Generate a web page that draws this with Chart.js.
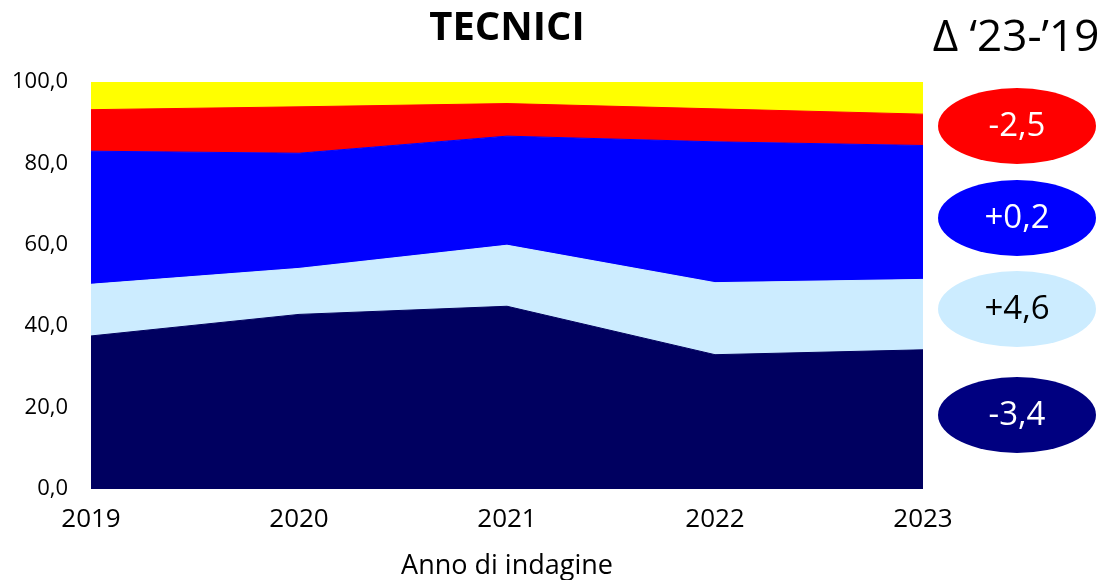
<!DOCTYPE html>
<html lang="it">
<head>
  <meta charset="UTF-8" />
  <title>Tecnici</title>
  <script src="https://cdn.jsdelivr.net/npm/chart.js"></script>
  <style>
    body { margin:0; background:#fff; }
    #wrap { width:1109px; height:580px; position:relative; }
  </style>
</head>
<body>
  <div id="wrap"><canvas id="chart" width="1109" height="580"></canvas></div>
  <script>
    // anni di indagine
    const years = ['2019', '2020', '2021', '2022', '2023'];
    // quote (%) per fascia, dal basso verso l'alto
    const navyVals   = [37.6, 42.9, 44.9, 33.0, 34.2];
    const lightVals  = [12.7, 11.3, 15.0, 17.7, 17.3];
    const blueVals   = [32.7, 28.3, 26.8, 34.6, 32.9];
    const redVals    = [10.2, 11.4,  8.0,  8.1,  7.7];
    const yellowVals = [ 6.8,  6.1,  5.3,  6.6,  7.9];
    const yTicks = [0, 20, 40, 60, 80, 100];
    // differenze '23-'19 (dall'alto)
    const deltaLabels = ['-2,5', '+0,2', '+4,6', '-3,4'];

    const FONT = "'Open Sans', 'DejaVu Sans', sans-serif";

    function layer(label, data, color, fill) {
      return { label, data, backgroundColor: color, borderColor: color, borderWidth: 1,
               fill, pointRadius: 0, tension: 0 };
    }

    // ellissi con i delta a destra
    const ellipses = [
      { cx: 1017, cy: 126, fill: '#ff0000', text: '#ffffff' },
      { cx: 1017, cy: 218, fill: '#0000ff', text: '#ffffff' },
      { cx: 1017, cy: 309, fill: '#ccecff', text: '#000000' },
      { cx: 1017, cy: 415, fill: '#000080', text: '#ffffff' }
    ];

    const extras = {
      id: 'extras',
      afterDraw(chart) {
        const ctx = chart.ctx;
        ctx.save();
        ctx.fillStyle = '#000';
        ctx.textAlign = 'center';
        ctx.textBaseline = 'middle';
        ctx.font = 'bold 40px ' + FONT;
        ctx.fillText('TECNICI', (chart.chartArea.left + chart.chartArea.right) / 2, 29);
        ctx.font = '44px ' + FONT;
        ctx.fillText('\u0394 \u201823-\u201919', 1016, 38);
        ellipses.forEach((e, i) => {
          ctx.beginPath();
          ctx.ellipse(e.cx, e.cy, 79, 38, 0, 0, Math.PI * 2);
          ctx.fillStyle = e.fill;
          ctx.fill();
          ctx.fillStyle = e.text;
          ctx.font = '33px ' + FONT;
          ctx.fillText(deltaLabels[i], e.cx, e.cy + 1);
        });
        ctx.restore();
      }
    };

    new Chart(document.getElementById('chart'), {
      type: 'line',
      data: {
        labels: years,
        datasets: [
          layer('Fascia 1', navyVals, '#000060', 'origin'),
          layer('Fascia 2', lightVals, '#ccecff', '-1'),
          layer('Fascia 3', blueVals, '#0000ff', '-1'),
          layer('Fascia 4', redVals, '#ff0000', '-1'),
          layer('Fascia 5', yellowVals, '#ffff00', '-1')
        ]
      },
      options: {
        responsive: false,
        animation: false,
        layout: { padding: { top: 82, right: 186, left: 0, bottom: 0 } },
        plugins: { legend: { display: false }, tooltip: { enabled: false } },
        scales: {
          x: {
            offset: false,
            grid: { display: false, drawTicks: false },
            border: { display: false },
            ticks: { color: '#000', padding: 15, maxRotation: 0, font: { family: FONT, size: 26 } },
            title: { display: true, text: 'Anno di indagine', color: '#000', padding: 0,
                     font: { family: FONT, size: 27, lineHeight: 1 } },
            afterFit(scale) { scale.height = 91; }
          },
          y: {
            stacked: true,
            min: 0, max: 100,
            afterBuildTicks(scale) { scale.ticks = yTicks.map(v => ({ value: v })); },
            grid: { display: false, drawTicks: false },
            border: { display: false },
            ticks: { color: '#000', padding: 23, font: { family: FONT, size: 22 },
                     callback: v => v.toFixed(1).replace('.', ',') },
            afterFit(scale) { scale.width = 91; }
          }
        }
      },
      plugins: [extras]
    });
  </script>
</body>
</html>
